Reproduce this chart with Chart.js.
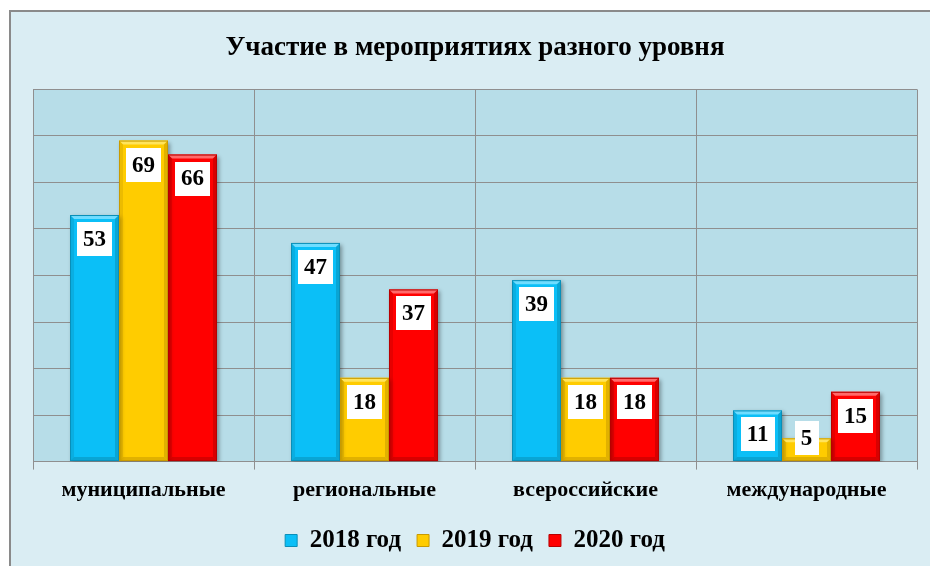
<!DOCTYPE html>
<html>
<head>
<meta charset="utf-8">
<script src="https://cdn.jsdelivr.net/npm/chart.js@4.4.1/dist/chart.umd.min.js"></script>
<style>
html,body{margin:0;padding:0;background:#ffffff;}
#wrap{width:930px;height:566px;position:relative;}
</style>
</head>
<body>
<div id="wrap"><canvas id="c" width="930" height="566"></canvas></div>
<script>
const categories = ['муниципальные', 'региональные', 'всероссийские', 'международные'];
const seriesNames = ['2018 год', '2019 год', '2020 год'];
const values2018 = [53, 47, 39, 11];
const values2019 = [69, 18, 18, 5];
const values2020 = [66, 37, 18, 15];
const titleText = 'Участие в мероприятиях разного уровня';

const SERIF = '"Liberation Serif", "Times New Roman", serif';
const fills = ['#0BBFF7', '#FFCC00', '#FF0000'];
const edges = ['#0A8FB8', '#C89A00', '#B80000'];
const lights = ['#6FDDFF', '#FFE45C', '#FF6A6A'];

const framePlugin = {
  id: 'frame',
  beforeDraw(chart) {
    const ctx = chart.ctx;
    ctx.save();
    ctx.fillStyle = '#ffffff';
    ctx.fillRect(0, 0, chart.width, chart.height);
    ctx.fillStyle = '#DAEDF3';
    ctx.fillRect(9, 10, chart.width, chart.height);
    ctx.strokeStyle = '#8a8a8a';
    ctx.lineWidth = 2;
    ctx.beginPath();
    ctx.moveTo(10, chart.height + 5);
    ctx.lineTo(10, 11);
    ctx.lineTo(chart.width + 5, 11);
    ctx.stroke();
    const a = chart.chartArea;
    ctx.fillStyle = '#B7DDE8';
    ctx.fillRect(a.left, a.top, a.right - a.left, a.bottom - a.top);
    ctx.restore();
  },
  beforeDatasetsDraw(chart) {
    const ctx = chart.ctx;
    ctx.save();
    ctx.shadowColor = 'rgba(0,0,0,0.35)';
    ctx.shadowBlur = 4;
    ctx.shadowOffsetX = 2;
    ctx.shadowOffsetY = 2;
  },
  afterDatasetsDraw(chart) {
    const ctx = chart.ctx;
    ctx.restore();
    ctx.save();
    chart.data.datasets.forEach((ds, di) => {
      const meta = chart.getDatasetMeta(di);
      meta.data.forEach((bar) => {
        const p = bar.getProps(['x', 'y', 'base', 'width'], true);
        const l = p.x - p.width / 2, r = p.x + p.width / 2, t = p.y, b = p.base;
        const bv = 4;
        ctx.fillStyle = lights[di];
        ctx.beginPath();
        ctx.moveTo(l, t); ctx.lineTo(r, t); ctx.lineTo(r - bv, t + bv); ctx.lineTo(l + bv, t + bv); ctx.closePath();
        ctx.fill();
        ctx.fillStyle = edges[di];
        ctx.globalAlpha = 0.55;
        ctx.beginPath();
        ctx.moveTo(r, t); ctx.lineTo(r, b); ctx.lineTo(r - bv, b - bv); ctx.lineTo(r - bv, t + bv); ctx.closePath();
        ctx.fill();
        ctx.beginPath();
        ctx.moveTo(l, b); ctx.lineTo(r, b); ctx.lineTo(r - bv, b - bv); ctx.lineTo(l + bv, b - bv); ctx.closePath();
        ctx.fill();
        ctx.globalAlpha = 0.35;
        ctx.beginPath();
        ctx.moveTo(l, t); ctx.lineTo(l, b); ctx.lineTo(l + bv, b - bv); ctx.lineTo(l + bv, t + bv); ctx.closePath();
        ctx.fill();
        ctx.globalAlpha = 1;
        ctx.strokeStyle = edges[di];
        ctx.lineWidth = 1;
        ctx.strokeRect(l + 0.5, t + 0.5, r - l - 1, b - t - 1);
      });
    });
    ctx.font = 'bold 23px ' + SERIF;
    ctx.textAlign = 'center';
    ctx.textBaseline = 'middle';
    chart.data.datasets.forEach((ds, di) => {
      const meta = chart.getDatasetMeta(di);
      meta.data.forEach((bar, i) => {
        const p = bar.getProps(['x', 'y', 'base'], true);
        const txt = String(ds.data[i]);
        const w = ctx.measureText(txt).width + 12;
        const h = 34;
        const cy = Math.min(p.y + 24, p.base - 23);
        ctx.fillStyle = '#ffffff';
        ctx.fillRect(Math.round(p.x - w / 2), Math.round(cy - h / 2), Math.round(w), h);
        ctx.fillStyle = '#000000';
        ctx.fillText(txt, p.x, cy + 1);
      });
    });
    ctx.restore();
  }
};

new Chart(document.getElementById('c'), {
  type: 'bar',
  data: {
    labels: categories,
    datasets: [
      { label: seriesNames[0], data: values2018, backgroundColor: fills[0], borderColor: edges[0], borderWidth: 0 },
      { label: seriesNames[1], data: values2019, backgroundColor: fills[1], borderColor: edges[1], borderWidth: 0 },
      { label: seriesNames[2], data: values2020, backgroundColor: fills[2], borderColor: edges[2], borderWidth: 0 }
    ]
  },
  options: {
    responsive: false,
    animation: false,
    devicePixelRatio: 1,
    layout: { padding: { left: 33, right: 13, top: 0, bottom: 3 } },
    datasets: { bar: { categoryPercentage: 0.665, barPercentage: 1 } },
    plugins: {
      title: {
        display: true,
        text: titleText,
        color: '#000000',
        font: { family: SERIF, size: 27, weight: 'bold' },
        padding: { top: 32, bottom: 25 }
      },
      legend: {
        position: 'bottom',
        labels: {
          color: '#000000',
          font: { family: SERIF, size: 25, weight: 'bold' },
          boxWidth: 12,
          boxHeight: 12,
          padding: 16,
          generateLabels(chart) {
            return chart.data.datasets.map((ds, i) => ({
              text: ds.label,
              fillStyle: fills[i],
              strokeStyle: edges[i],
              lineWidth: 1,
              datasetIndex: i,
              hidden: false
            }));
          }
        }
      },
      tooltip: { enabled: false }
    },
    scales: {
      x: {
        grid: { offset: true, color: '#8f8f8f', lineWidth: 1, drawTicks: true, tickLength: 8 },
        border: { display: true, color: '#8f8f8f' },
        ticks: { color: '#000000', font: { family: SERIF, size: 22, weight: 'bold' }, padding: 8, maxRotation: 0 }
      },
      y: {
        min: 0, max: 80,
        grid: { color: '#8f8f8f', lineWidth: 1, drawTicks: false },
        border: { display: false },
        ticks: { display: false, stepSize: 10 }
      }
    }
  },
  plugins: [framePlugin]
});
</script>
</body>
</html>
